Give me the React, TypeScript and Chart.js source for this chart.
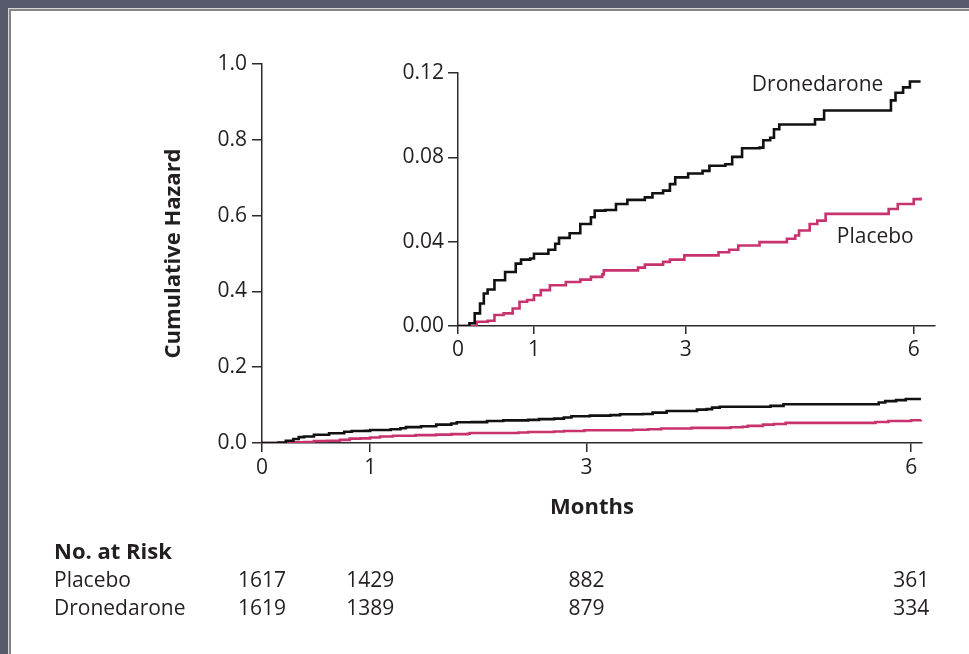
import React, { useEffect, useRef } from "react";
import { Chart, registerables } from "chart.js";

Chart.register(...registerables);

// ---------- data ----------
const MONTH_TICKS = [0, 1, 3, 6];
const MAIN_Y_TICKS = [0, 0.2, 0.4, 0.6, 0.8, 1.0];
const INSET_Y_TICKS = [0, 0.04, 0.08, 0.12];

const dronedaroneMonths = [
  0, 0.12, 0.15, 0.22, 0.29, 0.34, 0.39, 0.48, 0.62, 0.76, 0.83, 0.95, 1.0, 1.19, 1.28, 1.33,
  1.47, 1.61, 1.75, 1.8, 1.94, 2.08, 2.23, 2.46, 2.56, 2.7, 2.79, 2.86, 3.03, 3.22, 3.31, 3.52,
  3.61, 3.74, 3.97, 4.02, 4.11, 4.16, 4.23, 4.63, 4.7, 4.82, 5.65, 5.7, 5.76, 5.86, 5.95, 6.09,
];
const dronedaroneHazard = [
  0, 0, 0.0013, 0.006, 0.0107, 0.0154, 0.0173, 0.0217, 0.0256, 0.0296, 0.0315, 0.032, 0.0343,
  0.0362, 0.039, 0.0418, 0.044, 0.0484, 0.0516, 0.0547, 0.055, 0.0579, 0.0598, 0.061, 0.063,
  0.0642, 0.0673, 0.0705, 0.0723, 0.0736, 0.076, 0.0767, 0.0802, 0.0843, 0.0846, 0.0881, 0.0893,
  0.0933, 0.0956, 0.0956, 0.098, 0.1022, 0.1022, 0.107, 0.1106, 0.1132, 0.116, 0.116,
];

const placeboMonths = [
  0, 0.2, 0.245, 0.39, 0.48, 0.6, 0.72, 0.81, 0.91, 1.0, 1.09, 1.21, 1.42, 1.61, 1.75, 1.9, 1.92,
  2.37, 2.46, 2.7, 2.79, 2.98, 3.36, 3.43, 3.57, 3.69, 3.9, 3.97, 4.25, 4.33, 4.44, 4.49, 4.63,
  4.73, 4.84, 5.62, 5.67, 5.79, 6.0, 6.09,
];
const placeboHazard = [
  0, 0, 0.002, 0.0025, 0.0052, 0.006, 0.0083, 0.0115, 0.0123, 0.0146, 0.017, 0.0193, 0.0209,
  0.022, 0.0233, 0.0245, 0.0264, 0.0277, 0.0291, 0.0304, 0.0315, 0.0335, 0.0335, 0.035, 0.0362,
  0.0382, 0.0382, 0.0398, 0.0398, 0.0414, 0.0429, 0.0453, 0.0484, 0.05, 0.0532, 0.0532, 0.0555,
  0.0579, 0.0602, 0.061,
];

const riskLabels = ["Placebo", "Dronedarone"];
const placeboAtRisk = [1617, 1429, 882, 361];
const dronedaroneAtRisk = [1619, 1389, 879, 334];

// inset curve labels: [text, month, hazard]
const insetLabels: [string, number, number][] = [
  ["Dronedarone", 5.6, 0.1144],
  ["Placebo", 6.0, 0.0423],
];

// ---------- style ----------
const W = 969;
const H = 654;
const FONT = "'Open Sans', 'DejaVu Sans', sans-serif";
const TEXT = "#231f20";
const AXIS = "#2b2b2b";
const BLACK = "#111111";
const PINK = "#c8336f";
const FS = 21;
const FSB = 22;

function pts(xs: number[], ys: number[]) {
  return xs.map((x, i) => ({ x, y: ys[i] }));
}

function datasets() {
  return [
    {
      label: "Dronedarone",
      data: pts(dronedaroneMonths, dronedaroneHazard),
      borderColor: BLACK,
      borderWidth: 2.6,
      stepped: "before" as const,
      pointRadius: 0,
      fill: false,
    },
    {
      label: "Placebo",
      data: pts(placeboMonths, placeboHazard),
      borderColor: PINK,
      borderWidth: 2.6,
      stepped: "before" as const,
      pointRadius: 0,
      fill: false,
    },
  ];
}

function axisCommon(tickLength: number) {
  return {
    grid: {
      display: true,
      drawOnChartArea: false,
      drawTicks: true,
      tickLength,
      color: AXIS,
      lineWidth: 1.5,
    },
    border: { display: true, color: AXIS, width: 1.5 },
  };
}

const riskTablePlugin = {
  id: "riskTable",
  afterDraw(chart: any) {
    const ctx = chart.ctx;
    const xs = chart.scales.x;
    ctx.save();
    ctx.fillStyle = TEXT;
    ctx.textBaseline = "middle";
    ctx.textAlign = "left";
    ctx.font = `bold ${FSB}px ${FONT}`;
    ctx.fillText("No. at Risk", 54, 553);
    ctx.font = `${FS}px ${FONT}`;
    const rows = [placeboAtRisk, dronedaroneAtRisk];
    rows.forEach((vals, i) => {
      const y = 581 + i * 28.5;
      ctx.textAlign = "left";
      ctx.fillText(riskLabels[i], 54, y);
      ctx.textAlign = "center";
      vals.forEach((v, j) => {
        ctx.fillText(String(v), xs.getPixelForValue(MONTH_TICKS[j]), y);
      });
    });
    ctx.restore();
  },
};

const insetLabelPlugin = {
  id: "insetLabels",
  afterDraw(chart: any) {
    const ctx = chart.ctx;
    const xs = chart.scales.x;
    const ys = chart.scales.y;
    ctx.save();
    ctx.fillStyle = TEXT;
    ctx.textBaseline = "middle";
    ctx.textAlign = "right";
    ctx.font = `${FS}px ${FONT}`;
    insetLabels.forEach(([t, m, v]) => {
      ctx.fillText(t, xs.getPixelForValue(m), ys.getPixelForValue(v));
    });
    ctx.restore();
  },
};

export default function App() {
  const mainRef = useRef<HTMLCanvasElement | null>(null);
  const insetRef = useRef<HTMLCanvasElement | null>(null);

  useEffect(() => {
    if (!mainRef.current || !insetRef.current) return;
    const tickFont = { family: FONT, size: FS };

    const main = new Chart(mainRef.current, {
      type: "line",
      data: { datasets: datasets() as any },
      plugins: [riskTablePlugin],
      options: {
        animation: false,
        responsive: false,
        devicePixelRatio: 1,
        layout: { padding: { left: 0, top: 64, right: 47, bottom: 0 } },
        plugins: { legend: { display: false }, tooltip: { enabled: false } },
        scales: {
          x: {
            type: "linear",
            min: 0,
            max: 6.1,
            afterBuildTicks: (s: any) => {
              s.ticks = MONTH_TICKS.map((value) => ({ value }));
            },
            afterFit: (s: any) => {
              s.height = H - 443;
            },
            ticks: {
              font: tickFont,
              color: TEXT,
              padding: 3,
              autoSkip: false,
              maxRotation: 0,
              callback: (v: any) => String(v),
            },
            ...axisCommon(9),
            title: {
              display: true,
              text: "Months",
              color: TEXT,
              font: { family: FONT, size: FSB, weight: "bold" },
              padding: { top: 0, bottom: 133 },
            },
          } as any,
          y: {
            type: "linear",
            min: 0,
            max: 1.0,
            afterBuildTicks: (s: any) => {
              s.ticks = MAIN_Y_TICKS.map((value) => ({ value }));
            },
            afterFit: (s: any) => {
              s.width = 262;
            },
            ticks: {
              font: tickFont,
              color: TEXT,
              padding: 5,
              callback: (v: any) => Number(v).toFixed(1),
            },
            ...axisCommon(10),
            title: {
              display: true,
              text: "Cumulative Hazard",
              color: TEXT,
              font: { family: FONT, size: FSB, weight: "bold" },
              padding: { top: 161, bottom: 0 },
            },
          } as any,
        },
      },
    });

    const inset = new Chart(insetRef.current, {
      type: "line",
      data: { datasets: datasets() as any },
      plugins: [insetLabelPlugin],
      options: {
        animation: false,
        responsive: false,
        devicePixelRatio: 1,
        layout: { padding: { left: 0, top: 73, right: 34, bottom: 0 } },
        plugins: { legend: { display: false }, tooltip: { enabled: false } },
        scales: {
          x: {
            type: "linear",
            min: 0,
            max: 6.28,
            afterBuildTicks: (s: any) => {
              s.ticks = MONTH_TICKS.map((value) => ({ value }));
            },
            afterFit: (s: any) => {
              s.height = H - 326;
            },
            ticks: {
              font: tickFont,
              color: TEXT,
              padding: 3,
              autoSkip: false,
              maxRotation: 0,
              callback: (v: any) => String(v),
            },
            ...axisCommon(8),
          } as any,
          y: {
            type: "linear",
            min: 0,
            max: 0.12,
            afterBuildTicks: (s: any) => {
              s.ticks = INSET_Y_TICKS.map((value) => ({ value }));
            },
            afterFit: (s: any) => {
              s.width = 458;
            },
            ticks: {
              font: tickFont,
              color: TEXT,
              padding: 4,
              callback: (v: any) => Number(v).toFixed(2),
            },
            ...axisCommon(10),
          } as any,
        },
      },
    });

    return () => {
      main.destroy();
      inset.destroy();
    };
  }, []);

  const canvasStyle: React.CSSProperties = {
    position: "absolute",
    left: 0,
    top: 0,
    width: W,
    height: H,
  };

  return (
    <div
      style={{
        position: "fixed",
        left: 0,
        top: 0,
        width: W,
        height: H,
        background: "#575a6b",
        overflow: "hidden",
      }}
    >
      <div
        style={{
          position: "absolute",
          left: 8,
          top: 8,
          right: 0,
          bottom: 0,
          background: "#d6d6d6",
        }}
      >
        <div
          style={{
            position: "absolute",
            left: 1,
            top: 1,
            right: 0,
            bottom: 0,
            background: "#858585",
          }}
        >
          <div
            style={{
              position: "absolute",
              left: 2,
              top: 2,
              right: 0,
              bottom: 0,
              background: "#ffffff",
            }}
          />
        </div>
      </div>
      <canvas ref={mainRef} width={W} height={H} style={canvasStyle} />
      <canvas ref={insetRef} width={W} height={H} style={{ ...canvasStyle, pointerEvents: "none" }} />
    </div>
  );
}
